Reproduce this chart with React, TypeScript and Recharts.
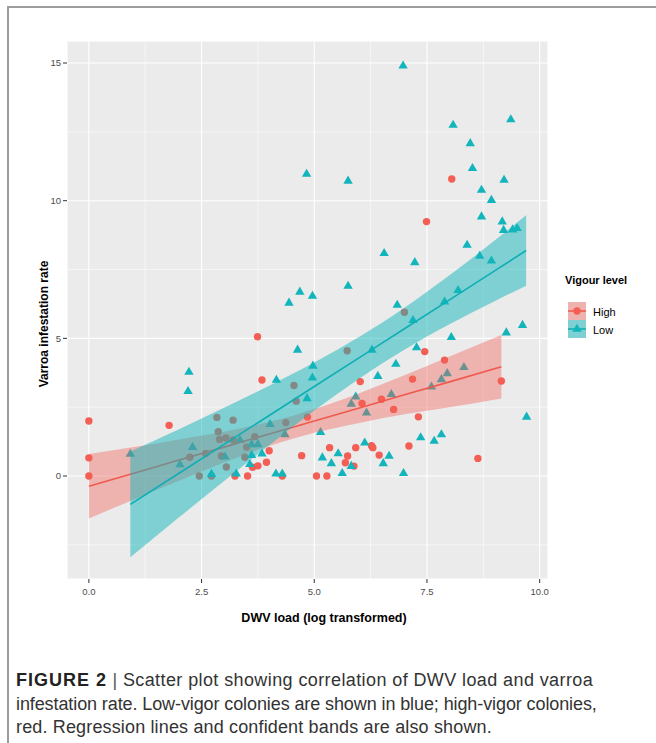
import React from "react";
import {
  ComposedChart,
  XAxis,
  YAxis,
  CartesianGrid,
  Scatter,
  Area,
  Line,
  ReferenceLine,
} from "recharts";

// ---------- data ----------
const xTicks = [0, 2.5, 5, 7.5, 10];
const yTicks = [0, 5, 10, 15];
const xMinor = [1.25, 3.75, 6.25, 8.75];
const yMinor = [-2.5, 2.5, 7.5, 12.5];

const seriesNames = ["High", "Low"];

// High vigour colonies (red circles)
const highX = [
  0, 0, 0, 1.78, 2.24, 2.45, 2.59, 2.72, 2.84, 2.87, 2.9, 2.94, 3.04, 3.05, 3.2,
  3.2, 3.24, 3.46, 3.5, 3.52, 3.63, 3.68, 3.74, 3.75, 3.84, 3.94, 4.0, 4.29, 4.37,
  4.55, 4.6, 4.72, 4.85, 5.05, 5.28, 5.34, 5.69, 5.73, 5.74, 5.88, 5.92, 6.02,
  6.06, 6.27, 6.3, 6.44, 6.49, 6.76, 7.0, 7.1, 7.18, 7.31, 7.45, 7.49, 7.89, 8.05,
  8.63, 9.15,
];
const highY = [
  2.0, 0.66, 0, 1.84, 0.68, 0, 0.82, 0, 2.13, 1.61, 1.33, 0.73, 1.38, 0.33, 2.03,
  1.31, 0, 0.68, 1.05, 0, 0.32, 1.43, 5.06, 0.37, 3.49, 0.5, 0.92, 0, 1.94, 3.29,
  2.72, 0.74, 2.14, 0, 0, 1.03, 0.48, 4.55, 0.73, 0.36, 1.03, 3.43, 2.64, 1.1,
  1.03, 0.76, 2.79, 2.42, 5.95, 1.09, 3.52, 2.15, 4.52, 9.24, 4.21, 10.79, 0.64,
  3.45,
];

// Low vigour colonies (teal triangles)
const lowX = [
  0.92, 2.02, 2.2, 2.22, 2.3, 2.72, 3.02, 3.27, 3.35, 3.57, 3.61, 3.61, 3.75, 3.84,
  4.02, 4.15, 4.16, 4.29, 4.35, 4.44, 4.63, 4.68, 4.83, 4.84, 4.96, 4.96, 4.97,
  5.14, 5.18, 5.38, 5.53, 5.62, 5.75, 5.75, 5.82, 5.82, 5.92, 6.12, 6.16, 6.28,
  6.41, 6.53, 6.55, 6.66, 6.71, 6.81, 6.84, 6.97, 6.98, 7.19, 7.23, 7.27, 7.36,
  7.6, 7.66, 7.82, 7.82, 7.89, 7.95, 8.04, 8.08, 8.19, 8.32, 8.39, 8.46, 8.51,
  8.67, 8.71, 8.71, 8.93, 8.93, 9.17, 9.2, 9.21, 9.26, 9.36, 9.4, 9.5, 9.62, 9.71,
];
const lowY = [
  0.8, 0.42, 3.08, 3.78, 1.05, 0.07, 0.7, 0.08, 1.31, 0.43, 0.76, 1.15, 1.15, 0.81,
  1.88, 0.08, 3.49, 0.08, 1.51, 6.29, 4.58, 6.69, 10.97, 2.82, 6.54, 3.57, 4.0,
  1.59, 0.67, 0.46, 0.82, 0.1, 10.72, 6.9, 2.62, 0.36, 2.88, 1.21, 2.3, 4.58, 3.63,
  0.46, 8.09, 0.73, 2.97, 4.07, 6.21, 14.9, 0.1, 5.66, 7.76, 4.67, 1.4, 3.24, 1.27,
  3.51, 1.51, 6.33, 3.73, 5.04, 12.75, 6.75, 3.95, 8.39, 12.08, 11.18, 7.99, 10.39,
  9.42, 10.02, 7.82, 9.24, 8.93, 10.75, 5.21, 12.95, 8.95, 9.0, 5.48, 2.15,
];

// Regression fit + confidence band
const highBandX = [0, 1, 2, 3, 4, 4.6, 5, 6, 7, 8, 9.15];
const highFit = [-0.37, 0.1, 0.58, 1.05, 1.53, 1.81, 2.0, 2.47, 2.95, 3.42, 3.97];
const highLo = [-1.54, -0.85, -0.17, 0.49, 1.09, 1.39, 1.57, 1.93, 2.24, 2.5, 2.82];
const highHi = [0.8, 1.05, 1.33, 1.61, 1.97, 2.23, 2.43, 3.01, 3.66, 4.34, 5.12];

const lowBandX = [0.92, 2, 3, 4, 5, 6, 6.45, 7, 8, 9, 9.7];
const lowFit = [-1.03, 0.1, 1.15, 2.2, 3.25, 4.3, 4.77, 5.35, 6.4, 7.45, 8.19];
const lowLo = [-2.95, -1.5, -0.18, 1.12, 2.38, 3.54, 4.03, 4.59, 5.51, 6.35, 6.91];
const lowHi = [0.89, 1.7, 2.48, 3.28, 4.12, 5.06, 5.51, 6.11, 7.29, 8.55, 9.47];

// ---------- styles ----------
const RED = "#F35E55";
const TEAL = "#12B5BB";
const RED_LINE = "#F0594F";
const TEAL_LINE = "#0FAEB5";
const FONT = "'Liberation Sans', Arial, Helvetica, sans-serif";

const highPts = highX.map((x, i) => ({ x, y: highY[i] }));
const lowPts = lowX.map((x, i) => ({ x, y: lowY[i] }));
const highBand = highBandX.map((x, i) => ({ x, range: [highLo[i], highHi[i]], fit: highFit[i] }));
const lowBand = lowBandX.map((x, i) => ({ x, range: [lowLo[i], lowHi[i]], fit: lowFit[i] }));

const Circle = (p: any) => {
  if (p.cx == null || p.cy == null) return null;
  return <circle cx={p.cx} cy={p.cy} r={3.7} fill={RED} />;
};
const Tri = (p: any) => {
  if (p.cx == null || p.cy == null) return null;
  const { cx, cy } = p;
  return (
    <polygon
      points={`${cx},${cy - 5.3} ${cx - 4.7},${cy + 2.8} ${cx + 4.7},${cy + 2.8}`}
      fill={TEAL}
    />
  );
};

const tickStyle = { fill: "#4D4D4D", fontSize: 9.5, fontFamily: FONT };

export default function App() {
  return (
    <div style={{ position: "absolute", left: 0, top: 0, width: 656, height: 743, background: "#fff" }}>
      {/* figure frame */}
      <div style={{ position: "absolute", left: 7, top: 6, width: 649, height: 1.5, background: "#9C9C9C" }} />
      <div style={{ position: "absolute", left: 7, top: 6, width: 1.5, height: 737, background: "#9C9C9C" }} />

      <div style={{ position: "absolute", left: 0, top: 0 }}>
        <ComposedChart
          width={656}
          height={743}
          margin={{ top: 41, right: 108, bottom: 134, left: 27 }}
        >
          <CartesianGrid fill="#EBEBEB" stroke="#FFFFFF" strokeWidth={1.1} />
          {xMinor.map((v) => (
            <ReferenceLine key={"xm" + v} x={v} stroke="#FFFFFF" strokeWidth={0.55} zIndex={-90} />
          ))}
          {yMinor.map((v) => (
            <ReferenceLine key={"ym" + v} y={v} stroke="#FFFFFF" strokeWidth={0.55} zIndex={-90} />
          ))}
          <XAxis
            type="number"
            dataKey="x"
            domain={[-0.485, 10.185]}
            ticks={xTicks}
            tickFormatter={(v: number) => v.toFixed(1)}
            allowDataOverflow
            axisLine={false}
            tickLine={{ stroke: "#333333", strokeWidth: 1 }}
            tickSize={4}
            tickMargin={5}
            tick={tickStyle}
            height={30}
            interval={0}
          />
          <YAxis
            type="number"
            domain={[-3.74, 15.8]}
            ticks={yTicks}
            allowDataOverflow
            axisLine={false}
            tickLine={{ stroke: "#333333", strokeWidth: 1 }}
            tickSize={4}
            tickMargin={2}
            tick={tickStyle}
            width={40}
            interval={0}
          />
          <Scatter name={seriesNames[0]} data={highPts} dataKey="y" shape={Circle} isAnimationActive={false} zIndex={600} />
          <Scatter name={seriesNames[1]} data={lowPts} dataKey="y" shape={Tri} isAnimationActive={false} zIndex={601} />
          <Area
            data={highBand}
            dataKey="range"
            type="monotone"
            stroke="none"
            fill={RED}
            fillOpacity={0.4}
            isAnimationActive={false}
            zIndex={700}
            dot={false}
            activeDot={false}
          />
          <Line
            data={highBand}
            dataKey="fit"
            type="linear"
            stroke={RED_LINE}
            strokeWidth={1.6}
            dot={false}
            activeDot={false}
            isAnimationActive={false}
            zIndex={710}
          />
          <Area
            data={lowBand}
            dataKey="range"
            type="monotone"
            stroke="none"
            fill={TEAL}
            fillOpacity={0.5}
            isAnimationActive={false}
            zIndex={720}
            dot={false}
            activeDot={false}
          />
          <Line
            data={lowBand}
            dataKey="fit"
            type="linear"
            stroke={TEAL_LINE}
            strokeWidth={1.6}
            dot={false}
            activeDot={false}
            isAnimationActive={false}
            zIndex={730}
          />
        </ComposedChart>
      </div>

      {/* axis titles and legend */}
      <svg
        width={656}
        height={743}
        style={{ position: "absolute", left: 0, top: 0, pointerEvents: "none" }}
      >
        <text
          x={324}
          y={621.5}
          textAnchor="middle"
          fontFamily={FONT}
          fontWeight="bold"
          fontSize={12.5}
          fill="#000"
        >
          DWV load (log transformed)
        </text>
        <text
          x={47.5}
          y={324}
          textAnchor="middle"
          fontFamily={FONT}
          fontWeight="bold"
          fontSize={12}
          fill="#000"
          transform="rotate(-90 47.5 324)"
        >
          Varroa infestation rate
        </text>

        <text x={565} y={284} fontFamily={FONT} fontWeight="bold" fontSize={11} fill="#000">
          Vigour level
        </text>
        {/* High key */}
        <rect x={568} y={302} width={18} height={18} fill="#EBEBEB" />
        <rect x={568} y={302} width={18} height={18} fill={RED} fillOpacity={0.4} />
        <line x1={568} y1={311} x2={586} y2={311} stroke={RED_LINE} strokeWidth={1.6} />
        <circle cx={577} cy={311} r={3.7} fill={RED} />
        <text x={593} y={315.5} fontFamily={FONT} fontSize={11} fill="#000">
          {seriesNames[0]}
        </text>
        {/* Low key */}
        <rect x={568} y={320} width={18} height={18} fill="#EBEBEB" />
        <rect x={568} y={320} width={18} height={18} fill={TEAL} fillOpacity={0.5} />
        <line x1={568} y1={329} x2={586} y2={329} stroke={TEAL_LINE} strokeWidth={1.6} />
        <polygon points="577,323.7 572.3,331.8 581.7,331.8" fill={TEAL} />
        <text x={593} y={333.5} fontFamily={FONT} fontSize={11} fill="#000">
          {seriesNames[1]}
        </text>
      </svg>

      {/* caption */}
      <div
        style={{
          position: "absolute",
          left: 16,
          top: 669,
          fontFamily: FONT,
          fontSize: 18,
          lineHeight: "23.7px",
          color: "#333",
          whiteSpace: "nowrap",
        }}
      >
        <div style={{ letterSpacing: "0.4px" }}>
          <span style={{ fontWeight: "bold", color: "#222", letterSpacing: "1px" }}>FIGURE 2</span>
          <span style={{ color: "#555" }}> | </span>
          Scatter plot showing correlation of DWV load and varroa
        </div>
        <div style={{ letterSpacing: "-0.1px" }}>
          infestation rate. Low-vigor colonies are shown in blue; high-vigor colonies,
        </div>
        <div style={{ letterSpacing: "0.15px" }}>
          red. Regression lines and confident bands are also shown.
        </div>
      </div>
    </div>
  );
}
